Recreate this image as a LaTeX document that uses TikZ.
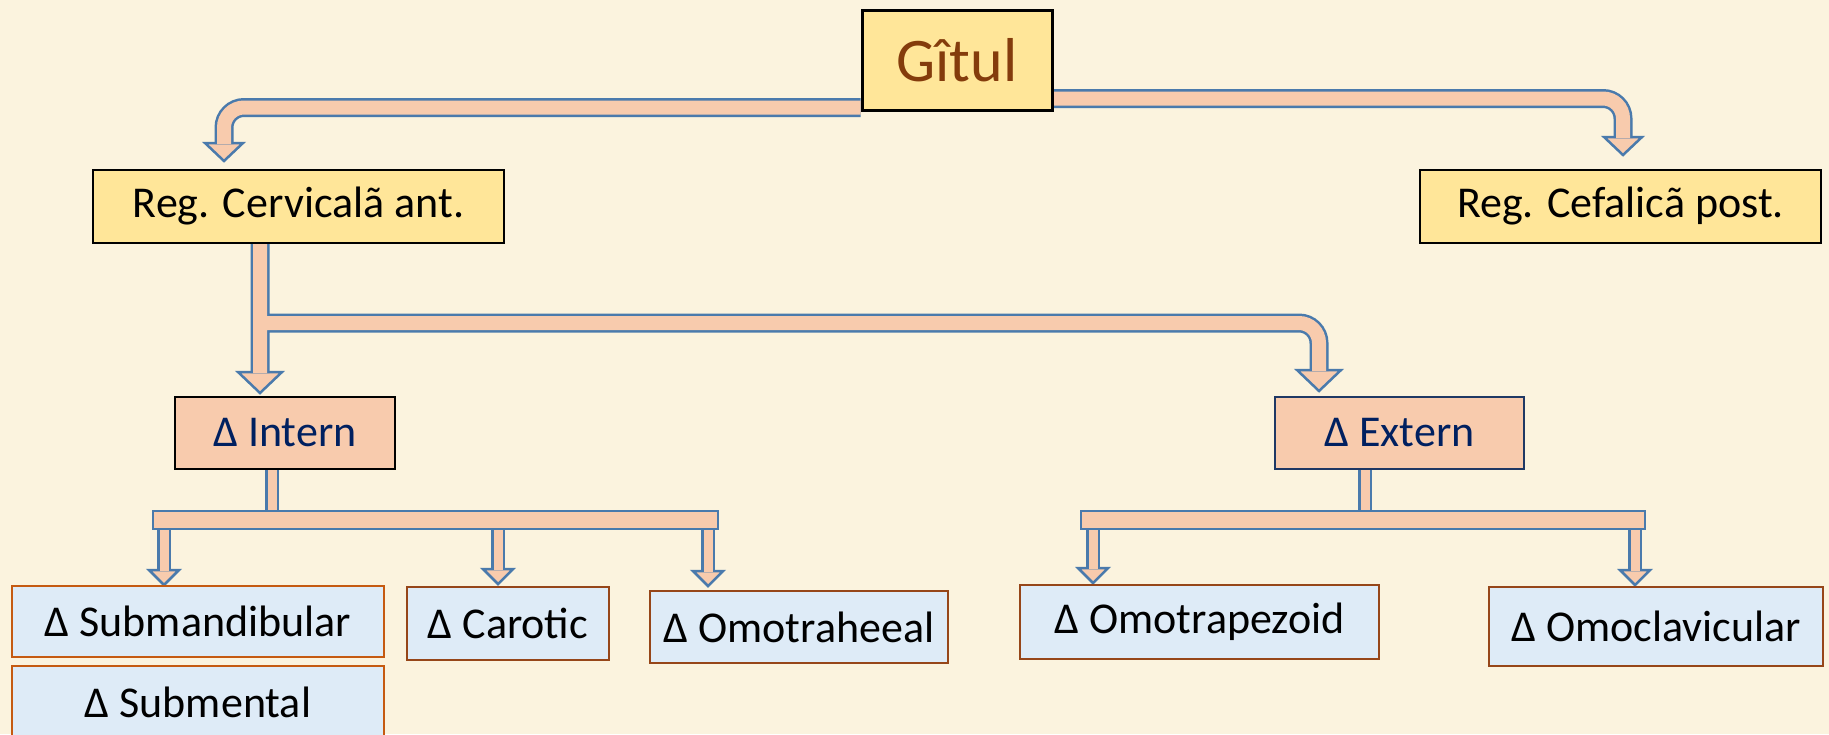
\documentclass[tikz,border=0pt]{standalone}
\usepackage{fontspec}
\setmainfont{Carlito}
\usetikzlibrary{calc}
\usetikzlibrary{positioning}
\usetikzlibrary{backgrounds}

\definecolor{paper}{RGB}{251,243,222}
\definecolor{regyellow}{RGB}{255,230,153}
\definecolor{peach}{RGB}{248,203,173}
\definecolor{pipeblue}{RGB}{74,122,172}
\definecolor{paleblue}{RGB}{222,235,247}
\definecolor{rust}{RGB}{197,90,17}
\definecolor{rustdark}{RGB}{150,70,25}
\definecolor{gitulbrown}{RGB}{132,60,12}
\definecolor{navy}{RGB}{0,32,96}
\definecolor{darkblue}{RGB}{31,56,100}

\tikzset{
  box/.style={draw, rectangle, inner sep=0pt, align=center},
  titlebox/.style={box, fill=regyellow, line width=1.5pt, text=gitulbrown, font=\fontsize{31}{36}\selectfont},
  regbox/.style={box, fill=regyellow, line width=1pt, font=\fontsize{22}{26}\selectfont},
  deltabox/.style={box, fill=peach, line width=1pt, text=navy, font=\fontsize{22}{26}\selectfont},
  subbox/.style={box, fill=paleblue, draw=rustdark, line width=1pt, font=\fontsize{22}{26}\selectfont},
  pipe/.style={draw=peach, line width=7pt, preaction={draw=pipeblue, line width=9.5pt}},
  thinpipe/.style={draw=peach, line width=4.5pt, preaction={draw=pipeblue, line width=7pt}},
  bar/.style={fill=peach, draw=pipeblue, line width=1.25pt},
  tip/.style={fill=peach, draw=pipeblue, line width=1.25pt, line join=miter},
}

\begin{document}
\begin{tikzpicture}[x=0.5pt,y=-0.5pt]
    \useasboundingbox (0,0) rectangle (1829,734);
    \begin{scope}[on background layer]
        \fill[paper] (0,0) rectangle (1829,734);
    \end{scope}

    % top level
    \node[titlebox, minimum width=95pt, minimum height=50pt] at (957,60) (gitul) {Gîtul};
    \node[regbox, minimum width=205.5pt, minimum height=36.5pt] at (298.5,206.5) (cervical) {Reg. Cervicalã ant.};
    \node[regbox, minimum width=200.5pt, minimum height=36.5pt] at (1620.5,206.5) (cefalic) {Reg. Cefalicã post.};

    % triangles
    \node[deltabox, minimum width=110pt, minimum height=36pt] at (285,433) (intern) {Δ Intern};
    \node[deltabox, draw=darkblue, minimum width=124.5pt, minimum height=36pt] at (1399.5,433) (extern) {Δ Extern};

    \node[subbox, draw=rust, minimum width=186pt, minimum height=35.5pt] at (198,621.5) (submand) {Δ Submandibular};
    \node[subbox, draw=rust, minimum width=186pt, minimum height=36pt] at (198,702) (submental) {Δ Submental};
    \node[subbox, minimum width=101pt, minimum height=36.5pt] at (508,623.5) (carotic) {Δ Carotic};
    \node[subbox, minimum width=149pt, minimum height=36pt] at (799,627) (omotraheeal) {Δ Omotraheeal};
    \node[subbox, minimum width=179.5pt, minimum height=37pt] at (1199.5,622) (omotrapezoid) {Δ Omotrapezoid};
    \node[subbox, minimum width=167pt, minimum height=39.5pt] at (1656,626.5) (omoclavicular) {Δ Omoclavicular};

    % tips and feet of the arrows
    \coordinate (tl tip) at ([xshift=66pt,yshift=4pt]cervical.north west);
    \coordinate (tr tip) at ([xshift=102pt,yshift=7pt]cefalic.north west);
    \coordinate (stem) at ([xshift=84pt]cervical.south west);
    \coordinate (branch) at ([yshift=-39.5pt]stem);
    \coordinate (intern tip) at ([yshift=1.5pt]stem |- intern.north);
    \coordinate (extern tip) at ([xshift=22.5pt,yshift=2.5pt]extern.north west);
    \coordinate (ifoot) at ([xshift=49pt]intern.south west);
    \coordinate (ibar) at ([yshift=-25pt]ifoot);
    \coordinate (efoot) at ([xshift=45.5pt]extern.south west);
    \coordinate (ebar) at ([yshift=-25pt]efoot);
    \coordinate (a1) at ([xshift=76.5pt]submand.north west);
    \coordinate (a2) at ([xshift=-5pt,yshift=1pt]carotic.north);
    \coordinate (a3) at ([xshift=29.5pt,yshift=2pt]omotraheeal.north west);
    \coordinate (b1) at ([xshift=37pt,yshift=0.5pt]omotrapezoid.north west);
    \coordinate (b2) at ([xshift=73.5pt,yshift=0.5pt]omoclavicular.north west);

    \begin{scope}[on background layer]
        % heads
        \foreach \t in {tl tip, tr tip}
            \filldraw[tip] (\t) -- ++(-19,-18) -- ++(38,0) -- cycle;
        \foreach \t in {intern tip, extern tip}
            \filldraw[tip] (\t) -- ++(-22,-21) -- ++(44,0) -- cycle;
        \foreach \t in {a1, a2, a3, b1, b2}
            \filldraw[tip] (\t) -- ++(-15,-15) -- ++(30,0) -- cycle;

        % shafts
        \draw[pipe, rounded corners=10pt] ([yshift=2pt]gitul.south west) -| ([yshift=8.5pt]tl tip);
        \draw[pipe, rounded corners=10pt] ([yshift=6.5pt]gitul.south east) -| ([yshift=8.5pt]tr tip);
        \draw[pipe, rounded corners=10pt] (stem) -- ([yshift=10pt]intern tip)
            (branch) -| ([yshift=10pt]extern tip);

        \draw[thinpipe] (ifoot) -- (ibar);
        \draw[thinpipe] (efoot) -- (ebar);
        \foreach \t/\b in {a1/ibar, a2/ibar, a3/ibar, b1/ebar, b2/ebar}
            \draw[thinpipe] (\t |- \b) -- ([yshift=7pt]\t);

        % bars
        \filldraw[bar] ($(a1 |- ibar)+(-11,-9)$) rectangle ($(a3 |- ibar)+(10,9)$);
        \filldraw[bar] ($(b1 |- ebar)+(-12,-9)$) rectangle ($(b2 |- ebar)+(10,9)$);
    \end{scope}
\end{tikzpicture}
\end{document}
